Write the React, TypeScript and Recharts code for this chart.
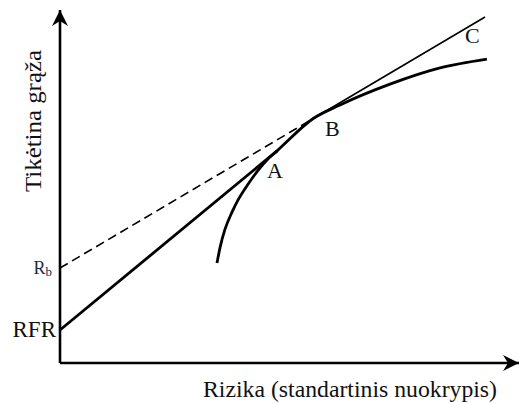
import { ComposedChart, Line, XAxis, YAxis, ReferenceDot, Label } from "recharts";

// efficient frontier (risk, expected return)
const frontierRisk = [34.2, 34.9, 35.9, 37.5, 38.8, 41.0, 43.1, 45.3, 47.3, 55.1, 61.0, 71.9, 82.8, 93.0];
const frontierReturn = [28.3, 32.9, 37.7, 42.8, 46.2, 50.7, 54.5, 57.8, 60.1, 69.2, 73.1, 79.0, 83.6, 86.1];

// line from the risk free rate to the tangent point A
const rfrRisk = [0, 47.3];
const rfrReturn = [9.35, 60.1];

// line from R_b: dashed up to B, then thin solid up to C
const rbDashRisk = [0, 55.1];
const rbDashReturn = [26.9, 69.2];
const rbSolidRisk = [55.1, 92.6];
const rbSolidReturn = [69.2, 98.0];

const yTicks = [9.35, 26.9];
const yTickLabels = ["RFR", "Rb"];

const points = [
  { name: "A", risk: 47.3, ret: 60.1 },
  { name: "B", risk: 55.1, ret: 69.2 },
  { name: "C", risk: 92.6, ret: 98.0 },
];
const pointOffsets: Record<string, [number, number]> = {
  A: [-10, 27],
  B: [12, 17],
  C: [-20, 26],
};

const toRows = (xs: number[], ys: number[]) => xs.map((x, i) => ({ x, y: ys[i] }));

const frontier = toRows(frontierRisk, frontierReturn);
const rfrLine = toRows(rfrRisk, rfrReturn);
const rbDash = toRows(rbDashRisk, rbDashReturn);
const rbSolid = toRows(rbSolidRisk, rbSolidReturn);

const serif = { fontFamily: "Liberation Serif, Times New Roman, Times, serif" };

const YTick = (props: any) => {
  const { x, y, payload } = props;
  const label = yTickLabels[yTicks.indexOf(payload.value)];
  if (label === "Rb") {
    return (
      <text x={x - 4} y={y + 6} textAnchor="end" style={serif} fill="#1f2a44">
        <tspan fontSize={18}>R</tspan>
        <tspan fontSize={13} dy={2}>b</tspan>
      </text>
    );
  }
  return (
    <text x={x} y={y + 7} textAnchor="end" style={serif} fontSize={23} fill="#111">
      {label}
    </text>
  );
};

const PointLabel = (name: string) => (props: any) => {
  const vb = props.viewBox;
  const [dx, dy] = pointOffsets[name];
  return (
    <text x={vb.x + dx} y={vb.y + dy} style={serif} fontSize={22} fill="#111">
      {name}
    </text>
  );
};

export default function App() {
  return (
    <div style={{ position: "absolute", left: 0, top: 0, background: "#fff" }}>
      <ComposedChart width={519} height={403} margin={{ top: 10, right: 0, left: 0, bottom: 0 }}>
        <defs>
          <marker
            id="axisArrow"
            viewBox="-16 -9 17 18"
            refX={0}
            refY={0}
            markerWidth={17}
            markerHeight={18}
            markerUnits="userSpaceOnUse"
            orient="auto-start-reverse"
          >
            <path d="M0,0 L-16,-8 L-11,0 L-16,8 Z" fill="#000" />
          </marker>
        </defs>
        <XAxis
          type="number"
          dataKey="x"
          domain={[0, 100]}
          allowDataOverflow
          height={40}
          tick={false}
          tickLine={false}
          axisLine={{ stroke: "#000", strokeWidth: 2.6, markerEnd: "url(#axisArrow)" }}
        >
          <Label
            content={() => (
              <text
                x={350}
                y={397}
                textAnchor="middle"
                textLength={294}
                lengthAdjust="spacingAndGlyphs"
                style={serif}
                fontSize={24}
                fill="#111"
              >
                Rizika (standartinis nuokrypis)
              </text>
            )}
          />
        </XAxis>
        <YAxis
          type="number"
          domain={[0, 100]}
          allowDataOverflow
          width={60}
          ticks={yTicks}
          tick={<YTick />}
          tickLine={false}
          tickSize={0}
          tickMargin={4}
          axisLine={{ stroke: "#000", strokeWidth: 2.6, markerStart: "url(#axisArrow)" }}
        >
          <Label
            content={() => (
              <text
                x={41}
                y={121}
                transform="rotate(-90, 41, 121)"
                textAnchor="middle"
                textLength={142}
                lengthAdjust="spacingAndGlyphs"
                style={serif}
                fontSize={24}
                fill="#111"
              >
                Tikėtina grąža
              </text>
            )}
          />
        </YAxis>
        <Line
          data={rbDash}
          dataKey="y"
          type="linear"
          stroke="#000"
          strokeWidth={1.6}
          strokeDasharray="9 5"
          dot={false}
          activeDot={false}
          isAnimationActive={false}
        />
        <Line
          data={rbSolid}
          dataKey="y"
          type="linear"
          stroke="#000"
          strokeWidth={1.6}
          dot={false}
          activeDot={false}
          isAnimationActive={false}
        />
        <Line
          data={rfrLine}
          dataKey="y"
          type="linear"
          stroke="#000"
          strokeWidth={2.8}
          dot={false}
          activeDot={false}
          isAnimationActive={false}
        />
        <Line
          data={frontier}
          dataKey="y"
          type="monotone"
          stroke="#000"
          strokeWidth={2.8}
          dot={false}
          activeDot={false}
          isAnimationActive={false}
        />
        {points.map((pt) => (
          <ReferenceDot
            key={pt.name}
            x={pt.risk}
            y={pt.ret}
            r={0}
            fill="none"
            stroke="none"
            label={{ content: PointLabel(pt.name) }}
          />
        ))}
      </ComposedChart>
    </div>
  );
}
